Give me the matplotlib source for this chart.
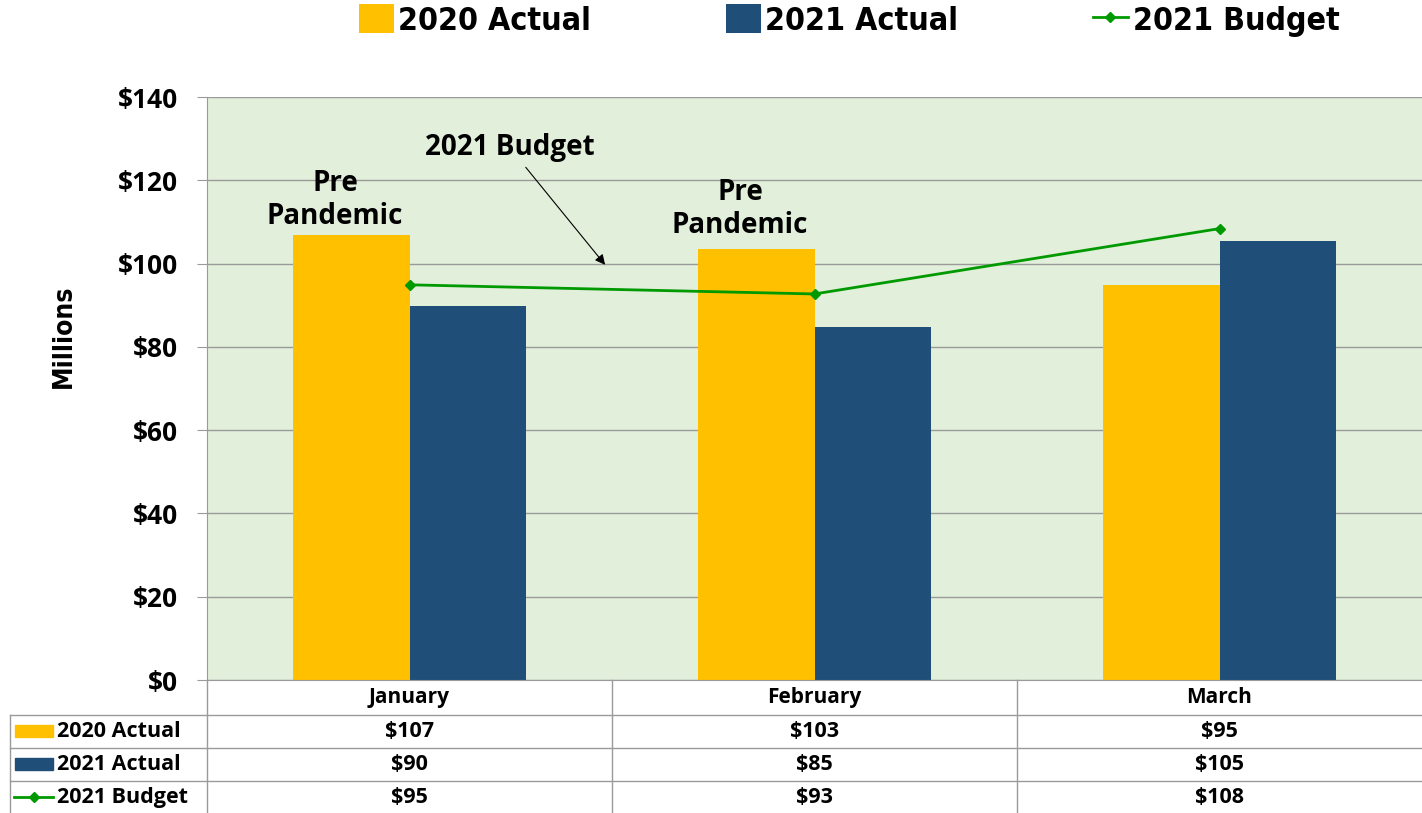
import numpy as np
import matplotlib.pyplot as plt
from matplotlib.lines import Line2D
from matplotlib.patches import Rectangle

months = ["January", "February", "March"]
actual_2020 = [106.9, 103.5, 94.9]
actual_2021 = [89.8, 84.8, 105.4]
budget_2021 = [94.9, 92.7, 108.4]
table_2020 = ["$107", "$103", "$95"]
table_2021 = ["$90", "$85", "$105"]
table_budget = ["$95", "$93", "$108"]
yticks = [0, 20, 40, 60, 80, 100, 120, 140]

yellow = "#FFC000"
navy = "#1F4E79"
green = "#009A00"
grid = "#9A9A9A"
bold = ["Open Sans", "DejaVu Sans"]
narrow = ["DejaVu Sans"]

fig = plt.figure(figsize=(14.22, 8.13), dpi=100)
L, B, T = 207 / 1422, 1 - 680 / 813, 1 - 97 / 813
ax = fig.add_axes([L, B, 1 - L, T - B])
ax.set_facecolor("#E2EFDA")

x = np.arange(len(months))
w = 0.288
b1 = ax.bar(x - w / 2, actual_2020, w, color=yellow, zorder=2, label="2020 Actual")
b2 = ax.bar(x + w / 2, actual_2021, w, color=navy, zorder=2, label="2021 Actual")
ln, = ax.plot(x, budget_2021, color=green, lw=2, marker="D", ms=5,
              zorder=3, label="2021 Budget")

ax.set_xlim(-0.5, 2.5)
ax.set_ylim(0, 140)
ax.set_yticks(yticks)
ax.set_yticklabels(["$%d" % v for v in yticks], fontsize=19, fontweight="bold",
                   family=bold)
ax.set_xticks([])
ax.yaxis.grid(True, color=grid, lw=1, zorder=0)
ax.tick_params(axis="y", length=7, color=grid, pad=14)
for s in ["top", "right"]:
    ax.spines[s].set_visible(False)
ax.spines["left"].set_color(grid)
ax.spines["bottom"].set_color(grid)
ax.set_ylabel("Millions", fontsize=19, fontweight="bold", family=narrow,
              fontstretch="condensed")
ax.yaxis.set_label_coords(-0.107, 0.59)

# annotations
for i, yy in [(0, 107.8), (1, 105.6)]:
    ax.text(x[i] - w / 2 - 0.04, yy, "Pre\nPandemic", ha="center", va="bottom",
            fontsize=20, fontweight="bold", family=bold, linespacing=1.2)
ax.annotate("2021 Budget", xy=(0.483, 99.7), xytext=(0.248, 124.3),
            ha="center", va="bottom", fontsize=20, fontweight="bold", family=bold,
            arrowprops=dict(arrowstyle="-|>", color="black", lw=0.8,
                            mutation_scale=15, shrinkA=2, shrinkB=0))

# legend on top
fig.legend([b1, b2, ln], ["2020 Actual", "2021 Actual", "2021 Budget"],
           loc="upper center", bbox_to_anchor=(0.597, 1.03), ncol=3, frameon=False,
           prop={"family": narrow, "weight": "bold", "size": 23, "stretch": "condensed"},
           handlelength=1.1, handleheight=1.0, handletextpad=0.15, columnspacing=4.2)

# data table under the chart
tax = fig.add_axes([L, 0, 1 - L, B])
tax.set_xlim(-0.5, 2.5)
tax.set_ylim(133, 0)
tax.axis("off")
rows = [table_2020, table_2021, table_budget]
row_mid = [17, 51, 84, 117]
for i, m in enumerate(months):
    tax.text(x[i], row_mid[0], m, ha="center", va="center", fontsize=15,
             fontweight="bold", family=bold)
    for r, vals in enumerate(rows):
        tax.text(x[i], row_mid[r + 1], vals[i], ha="center", va="center", fontsize=15.5,
                 fontweight="bold", family=bold)
for xb in [0.5, 1.5]:
    tax.plot([xb, xb], [0, 133], color=grid, lw=1, clip_on=False)

# left label column in figure coords
fl = 10 / 1422
for yp in [715, 748, 781]:
    yy = 1 - yp / 813
    fig.add_artist(Line2D([fl, 1], [yy, yy], color=grid, lw=1))
fig.add_artist(Line2D([fl, fl], [0, 1 - 715 / 813], color=grid, lw=1))
fig.add_artist(Line2D([L, L], [0, B], color=grid, lw=1))

names = ["2020 Actual", "2021 Actual", "2021 Budget"]
for k, name in enumerate(names):
    yc = 1 - (680 + row_mid[k + 1]) / 813
    if k < 2:
        fig.add_artist(Rectangle((15 / 1422, yc - 6 / 813), 38 / 1422, 12 / 813,
                                 color=[yellow, navy][k]))
    else:
        fig.add_artist(Line2D([14 / 1422, 53 / 1422], [yc, yc], color=green, lw=2))
        fig.add_artist(Line2D([33.5 / 1422], [yc], color=green, marker="D", ms=5))
    fig.text(57 / 1422, yc, name, ha="left", va="center", fontsize=15.5,
             fontweight="bold", family=bold)

fig.savefig("out.png", dpi=100)
